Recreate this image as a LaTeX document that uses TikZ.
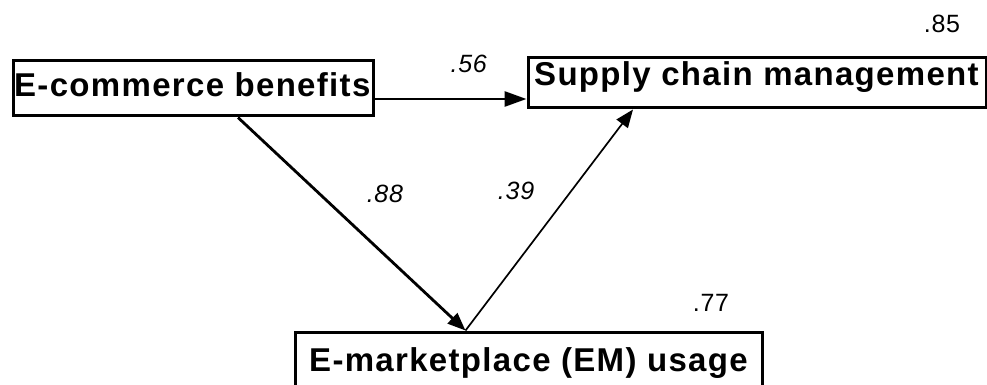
\documentclass[tikz,border=0pt]{standalone}
\usepackage{fontspec}
\setmainfont{Liberation Sans}
\newfontfamily\boxfont[LetterSpace=4]{Liberation Sans}
\newfontfamily\numfont[LetterSpace=3]{Liberation Sans}
\usetikzlibrary{arrows.meta, calc}

\begin{document}
\begin{tikzpicture}[x=1pt, y=-1pt, every node/.style={inner sep=0pt}]

                \coordinate (A) at (0, 0);
                \useasboundingbox ($ (A) $) rectangle ++(987, 385);

                % variable boxes
                \node[draw, line width=3pt, minimum width=360pt, minimum height=55pt] (ecb) at ($ (A) + (193, 88.5) $) {};
                \node[draw, line width=3pt, minimum width=458pt, minimum height=50pt] (scm) at ($ (A) + (757, 83) $) {};
                \node[draw, line width=3pt, minimum width=467pt, minimum height=62pt] (emu) at ($ (A) + (528.5, 363) $) {};

                \node[anchor=base west, font=\boxfont\bfseries\fontsize{33}{33}\selectfont] at ($ (A) + (14, 97) $) {E-commerce benefits};
                \node[anchor=base west, font=\boxfont\bfseries\fontsize{33}{33}\selectfont] at ($ (A) + (534, 86) $) {Supply chain management};
                \node[anchor=base west, font=\boxfont\bfseries\fontsize{33}{33}\selectfont] at ($ (A) + (309, 371) $) {E-marketplace (EM) usage};

                % squared multiple correlations
                \node[font=\numfont\fontsize{25}{25}\selectfont] at ($ (A) + (942, 24) $) {.85};
                \node[font=\numfont\fontsize{25}{25}\selectfont] at ($ (A) + (711, 303) $) {.77};

                % paths
                \draw[line width=2.8pt, -{Triangle[length=22pt, width=15pt]}] ($ (ecb.east) + (0, 10.5) $) -- ($ (scm.west) + (0, 16) $) node [pos=0.62, above=25pt, font=\numfont\itshape\fontsize{25}{25}\selectfont] {.56};

                \draw[line width=2.8pt, -{Triangle[length=18pt, width=14pt]}] ($ (ecb.south) + (45, 0) $) -- ($ (emu.north) + (-63, 0) $) node [pos=0.36, xshift=65pt, font=\numfont\itshape\fontsize{25}{25}\selectfont] {.88};

                \draw[line width=1.7pt, -{Triangle[length=18pt, width=14pt]}] ($ (emu.north) + (-63, 0) $) -- ($ (scm.south) + (-124, 0) $) node [pos=0.63, xshift=-55pt, font=\numfont\itshape\fontsize{25}{25}\selectfont] {.39};

            \end{tikzpicture}
\end{document}
